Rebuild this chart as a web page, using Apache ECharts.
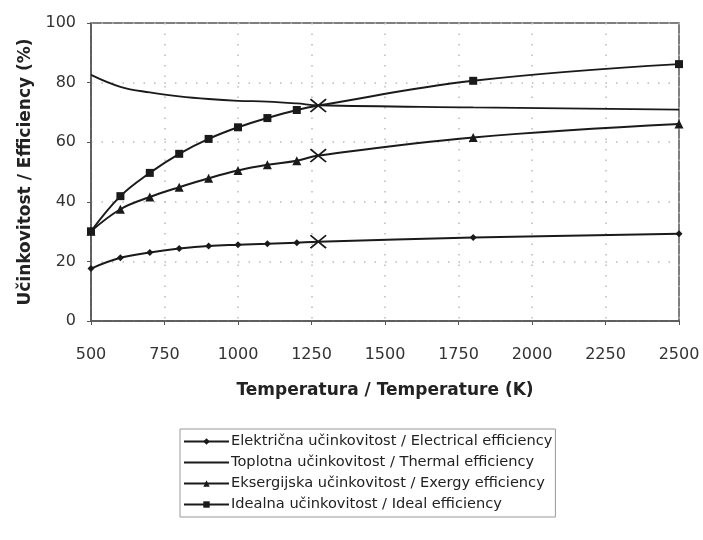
<!DOCTYPE html>
<html><head><meta charset="utf-8">
<script src="https://cdn.jsdelivr.net/npm/echarts@6/dist/echarts.min.js"></script>
<style>html,body{margin:0;padding:0;background:#fff}#c{width:703px;height:540px}</style>
</head><body><div id="c"></div>
<script>
const temperatures = [500, 600, 700, 800, 900, 1000, 1100, 1200, 1273, 1800, 2500];
const electrical = [17.6, 21.2, 23.0, 24.3, 25.2, 25.6, 25.9, 26.3, 26.6, 28.0, 29.3];
const thermal    = [82.6, 78.6, 76.7, 75.4, 74.5, 73.9, 73.6, 73.0, 72.4, 71.7, 70.9];
const exergy     = [30.1, 37.5, 41.6, 44.9, 47.9, 50.5, 52.4, 53.8, 55.5, 61.6, 66.1];
const ideal      = [30.1, 41.9, 49.7, 56.1, 61.1, 65.0, 68.1, 70.8, 72.3, 80.6, 86.2];
const crossTemp = 1273;
const seriesNames = [
  'Električna učinkovitost / Electrical efficiency',
  'Toplotna učinkovitost / Thermal efficiency',
  'Eksergijska učinkovitost / Exergy efficiency',
  'Idealna učinkovitost / Ideal efficiency'
];

const INK = '#1a1a1a';
const FONT = 'DejaVu Sans, Verdana, sans-serif';
const crossPath = 'path://M0,0.8L0.8,0L10,9.2L9.2,10Z M9.2,0L10,0.8L0.8,10L0,9.2Z';
function build(vals, withCross) {
  return temperatures.map((t, i) => {
    if (withCross && t === crossTemp) {
      return { value: [t, vals[i]], symbol: crossPath, symbolSize: [17, 14], itemStyle: { color: INK } };
    }
    return [t, vals[i]];
  });
}
const base = {
  type: 'line', smooth: 0.4,
  lineStyle: { color: INK, width: 2 },
  itemStyle: { color: INK },
  emphasis: { disabled: true }, z: 3
};
const chart = echarts.init(document.getElementById('c'));
chart.setOption({
  animation: false,
  textStyle: { fontFamily: FONT },
  grid: { left: 91, right: 24, top: 23, bottom: 219, show: true, borderColor: '#555', borderWidth: 1.5 },
  xAxis: {
    type: 'value', min: 500, max: 2500, interval: 250,
    name: 'Temperatura / Temperature (K)', nameLocation: 'middle', nameGap: 61,
    nameTextStyle: { fontSize: 17, fontWeight: 'bold', color: '#222', fontFamily: FONT },
    axisLine: { show: true, lineStyle: { color: '#555', width: 1.5 } },
    axisTick: { show: true, length: 4, lineStyle: { color: '#555' } },
    axisLabel: { fontSize: 16, color: '#333', margin: 26, formatter: v => String(v) },
    splitLine: { show: true, lineStyle: { color: '#bbb', type: [1.5, 9], width: 1.5 } }
  },
  yAxis: {
    type: 'value', min: 0, max: 100, interval: 20,
    name: 'Učinkovitost / Efficiency (%)', nameLocation: 'middle', nameGap: 55,
    nameTextStyle: { fontSize: 17, fontWeight: 'bold', color: '#222', fontFamily: FONT },
    axisLine: { show: true, lineStyle: { color: '#555', width: 1.5 } },
    axisTick: { show: true, length: 4, lineStyle: { color: '#555' } },
    axisLabel: { fontSize: 16, color: '#333', margin: 15, formatter: v => String(v) },
    splitLine: { show: true, lineStyle: { color: '#bbb', type: [1.5, 9], width: 1.5 } }
  },
  legend: {
    orient: 'vertical', left: 180, top: 429,
    itemWidth: 45, itemHeight: 8, itemGap: 6,
    padding: [5, 3, 5, 3],
    symbolKeepAspect: true,
    borderColor: '#999', borderWidth: 1,
    textStyle: { fontSize: 14.6, color: '#222', padding: [0, 0, 0, -3] },
    data: [
      seriesNames[0],
      { name: seriesNames[1], icon: 'path://M0,0L45,0L45,2L0,2Z' },
      seriesNames[2],
      seriesNames[3]
    ]
  },
  series: [
    Object.assign({}, base, { name: seriesNames[0], data: build(electrical, true), symbol: 'diamond', symbolSize: 7 }),
    Object.assign({}, base, { name: seriesNames[1], data: build(thermal, false), symbol: 'none', lineStyle: { color: INK, width: 1.8 } }),
    Object.assign({}, base, { name: seriesNames[2], data: build(exergy, true), symbol: 'triangle', symbolSize: 9 }),
    Object.assign({}, base, { name: seriesNames[3], data: build(ideal, true), symbol: 'rect', symbolSize: 8 })
  ]
});
</script></body></html>
